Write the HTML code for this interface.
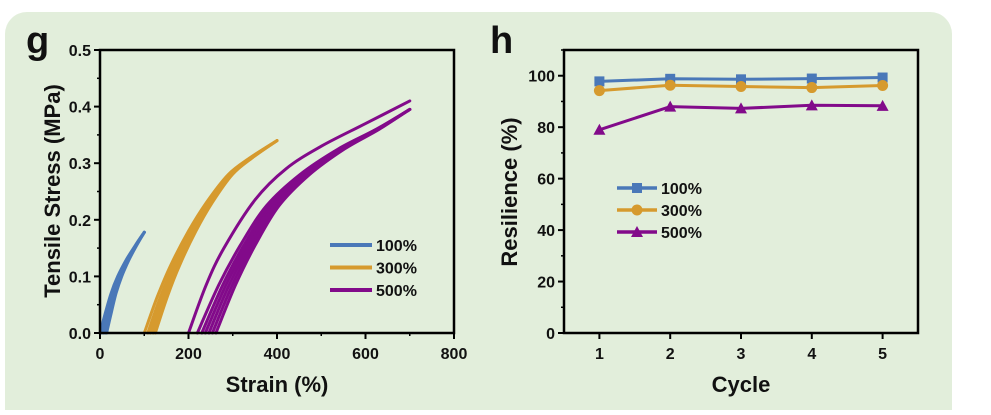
<!DOCTYPE html>
<html><head><meta charset="utf-8">
<style>
html,body{margin:0;padding:0;background:#fff;}
body{width:991px;height:410px;overflow:hidden;position:relative;font-family:"Liberation Sans",Arial,sans-serif;}
svg text{font-family:"Liberation Sans",Arial,sans-serif;font-weight:bold;fill:#111;}
</style></head><body>
<svg id="fig" width="991" height="410">
<rect x="5" y="12" width="947" height="420" rx="22" fill="#e2eedb"/>
<g id="gplot"></g>
<g id="hplot"></g>
</svg>
<script>
// ---- Chart g data ----
const gXTicks = [0, 200, 400, 600, 800];
const gYTicks = [0.0, 0.1, 0.2, 0.3, 0.4, 0.5];
const gSeries = ["100%", "300%", "500%"];
// base loading curve shapes [strain, stress]
const curve100 = [[0,0],[12,0.035],[25,0.07],[40,0.1],[60,0.13],[80,0.155],[100,0.178]];
const curve300 = [[100,0],[130,0.065],[160,0.12],[200,0.18],[240,0.23],[290,0.28],[340,0.31],[400,0.34]];
const curve500a = [[200,0],[240,0.085],[280,0.15],[350,0.235],[420,0.29],[500,0.33],[600,0.37],[700,0.41]];
const curve500b = [[255,0],[300,0.085],[345,0.155],[400,0.225],[470,0.28],[550,0.325],[630,0.36],[700,0.395]];
// cycle start strains
const starts100 = [0, 4, 8, 12, 15];
const starts300 = [100, 108, 114, 120, 125];
const starts500 = [220, 230, 238, 246, 254, 262];

// ---- Chart h data ----
const hCycles = [1, 2, 3, 4, 5];
const h100 = [97.8, 98.8, 98.6, 98.9, 99.3];
const h300 = [94.2, 96.3, 95.8, 95.4, 96.2];
const h500 = [79.0, 88.0, 87.3, 88.5, 88.3];
const hYTicks = [0, 20, 40, 60, 80, 100];

const NS = "http://www.w3.org/2000/svg";
const colors = ["#4a78b8", "#d69a2e", "#820a8a"];
function mk(tag, attrs, parent){const e=document.createElementNS(NS,tag);for(const k in attrs)e.setAttribute(k,attrs[k]);parent.appendChild(e);return e;}

// ===== chart g =====
const G = document.getElementById("gplot");
const gL=100,gR=454,gT=50,gB=333;
const gx=v=>gL+(v-0)/(800-0)*(gR-gL);
const gy=v=>gB-(v-0)/(0.5-0)*(gB-gT);
function rescale(curve, s0){const b0=curve[0][0],end=curve[curve.length-1][0];return curve.map(p=>[s0+(p[0]-b0)*(end-s0)/(end-b0),p[1]]);}
function smoothPath(P){
  let d="M"+P[0][0].toFixed(1)+","+P[0][1].toFixed(1);
  for(let i=0;i<P.length-1;i++){
    const p0=P[Math.max(0,i-1)],p1=P[i],p2=P[i+1],p3=P[Math.min(P.length-1,i+2)];
    const c1=[p1[0]+(p2[0]-p0[0])/6,p1[1]+(p2[1]-p0[1])/6];
    const c2=[p2[0]-(p3[0]-p1[0])/6,p2[1]-(p3[1]-p1[1])/6];
    d+=` C${c1[0].toFixed(1)},${c1[1].toFixed(1)} ${c2[0].toFixed(1)},${c2[1].toFixed(1)} ${p2[0].toFixed(1)},${p2[1].toFixed(1)}`;
  }
  return d;
}
function drawCurve(pts,color,name){
  const P=pts.map(p=>[gx(p[0]),gy(p[1])]);
  const e=mk("path",{d:smoothPath(P),fill:"none",stroke:color,"stroke-width":3,"stroke-linejoin":"round","stroke-linecap":"round"},G);
  
  
}
starts100.forEach((s,i)=>drawCurve(rescale(curve100,s),colors[0],"curve-100-cycle"+(i+1)));
starts300.forEach((s,i)=>drawCurve(rescale(curve300,s),colors[1],"curve-300-cycle"+(i+1)));
drawCurve(curve500a,colors[2],"curve-500-cycle1");
starts500.forEach((s,i)=>drawCurve(rescale(curve500b,s),colors[2],"curve-500-cycle"+(i+2)));
mk("rect",{x:gL,y:gT,width:gR-gL,height:gB-gT,fill:"none",stroke:"#000","stroke-width":2.5},G);
gXTicks.forEach((v,i)=>{
  mk("line",{x1:gx(v),x2:gx(v),y1:gB,y2:gB+6,stroke:"#000","stroke-width":2},G);
  if(i<gXTicks.length-1)mk("line",{x1:gx(v+100),x2:gx(v+100),y1:gB,y2:gB+3,stroke:"#000","stroke-width":1.5},G);
  const t=mk("text",{x:gx(v),y:gB+26,"text-anchor":"middle","font-size":16},G);t.textContent=v;
  
  
});
gYTicks.forEach((v,i)=>{
  mk("line",{x1:gL-6,x2:gL,y1:gy(v),y2:gy(v),stroke:"#000","stroke-width":2},G);
  if(i<gYTicks.length-1)mk("line",{x1:gL-3,x2:gL,y1:gy(v+0.05),y2:gy(v+0.05),stroke:"#000","stroke-width":1.5},G);
  const t=mk("text",{x:gL-9,y:gy(v)+6,"text-anchor":"end","font-size":16},G);t.textContent=v.toFixed(1);
  
  
});
let t=mk("text",{x:277,y:392,"text-anchor":"middle","font-size":22},G);t.textContent="Strain (%)";


t=mk("text",{x:0,y:0,"text-anchor":"middle","font-size":22,transform:"translate(60,191) rotate(-90)"},G);t.textContent="Tensile Stress (MPa)";


t=mk("text",{x:26,y:53,"font-size":38},G);t.textContent="g";


gSeries.forEach((s,i)=>{
  const y=245+i*22.5;
  const l=mk("line",{x1:330,x2:372,y1:y,y2:y,stroke:colors[i],"stroke-width":4},G);
  
  
  const tt=mk("text",{x:376,y:y+6,"font-size":16},G);tt.textContent=s;
  
  
});

// ===== chart h =====
const H=document.getElementById("hplot");
const hL=564,hR=918,hT=50,hB=333;
const hx=v=>hL+(v-0.5)/(5.5-0.5)*(hR-hL);
const hy=v=>hB-(v-0)/(110-0)*(hB-hT);
const hData=[h100,h300,h500];
hData.forEach((arr,si)=>{
  const d=arr.map((v,i)=>(i?"L":"M")+hx(hCycles[i]).toFixed(1)+","+hy(v).toFixed(1)).join(" ");
  const p=mk("path",{d:d,fill:"none",stroke:colors[si],"stroke-width":3},H);
  
  
  arr.forEach((v,i)=>{
    const cx=hx(hCycles[i]),cy=hy(v);let m;
    if(si===0)m=mk("rect",{x:cx-5,y:cy-5,width:10,height:10,fill:colors[0]},H);
    else if(si===1)m=mk("circle",{cx:cx,cy:cy,r:5.5,fill:colors[1]},H);
    else m=mk("polygon",{points:`${cx},${cy-6} ${cx-6},${cy+5} ${cx+6},${cy+5}`,fill:colors[2]},H);
    
    
  });
});
mk("rect",{x:hL,y:hT,width:hR-hL,height:hB-hT,fill:"none",stroke:"#000","stroke-width":2.5},H);
hCycles.forEach(v=>{
  mk("line",{x1:hx(v),x2:hx(v),y1:hB,y2:hB+6,stroke:"#000","stroke-width":2},H);
  const tt=mk("text",{x:hx(v),y:hB+26,"text-anchor":"middle","font-size":16},H);tt.textContent=v;
  
  
});
hYTicks.forEach((v,i)=>{
  mk("line",{x1:hL-6,x2:hL,y1:hy(v),y2:hy(v),stroke:"#000","stroke-width":2},H);
  mk("line",{x1:hL-3,x2:hL,y1:hy(v+10),y2:hy(v+10),stroke:"#000","stroke-width":1.5},H);
  const tt=mk("text",{x:hL-9,y:hy(v)+6,"text-anchor":"end","font-size":16},H);tt.textContent=v;
  
  
});
t=mk("text",{x:741,y:392,"text-anchor":"middle","font-size":22},H);t.textContent="Cycle";


t=mk("text",{x:0,y:0,"text-anchor":"middle","font-size":22,transform:"translate(517,192) rotate(-90)"},H);t.textContent="Resilience (%)";


t=mk("text",{x:490,y:53,"font-size":38},H);t.textContent="h";


gSeries.forEach((s,i)=>{
  const y=188+i*22;
  const l=mk("line",{x1:617,x2:657,y1:y,y2:y,stroke:colors[i],"stroke-width":3.5},H);
  
  
  let m;
  if(i===0)m=mk("rect",{x:632,y:y-5,width:10,height:10,fill:colors[0]},H);
  else if(i===1)m=mk("circle",{cx:637,cy:y,r:5.5,fill:colors[1]},H);
  else m=mk("polygon",{points:`637,${y-6} 631,${y+5} 643,${y+5}`,fill:colors[2]},H);
  
  
  const tt=mk("text",{x:661,y:y+6,"font-size":16},H);tt.textContent=s;
  
  
});
</script>
</body></html>
